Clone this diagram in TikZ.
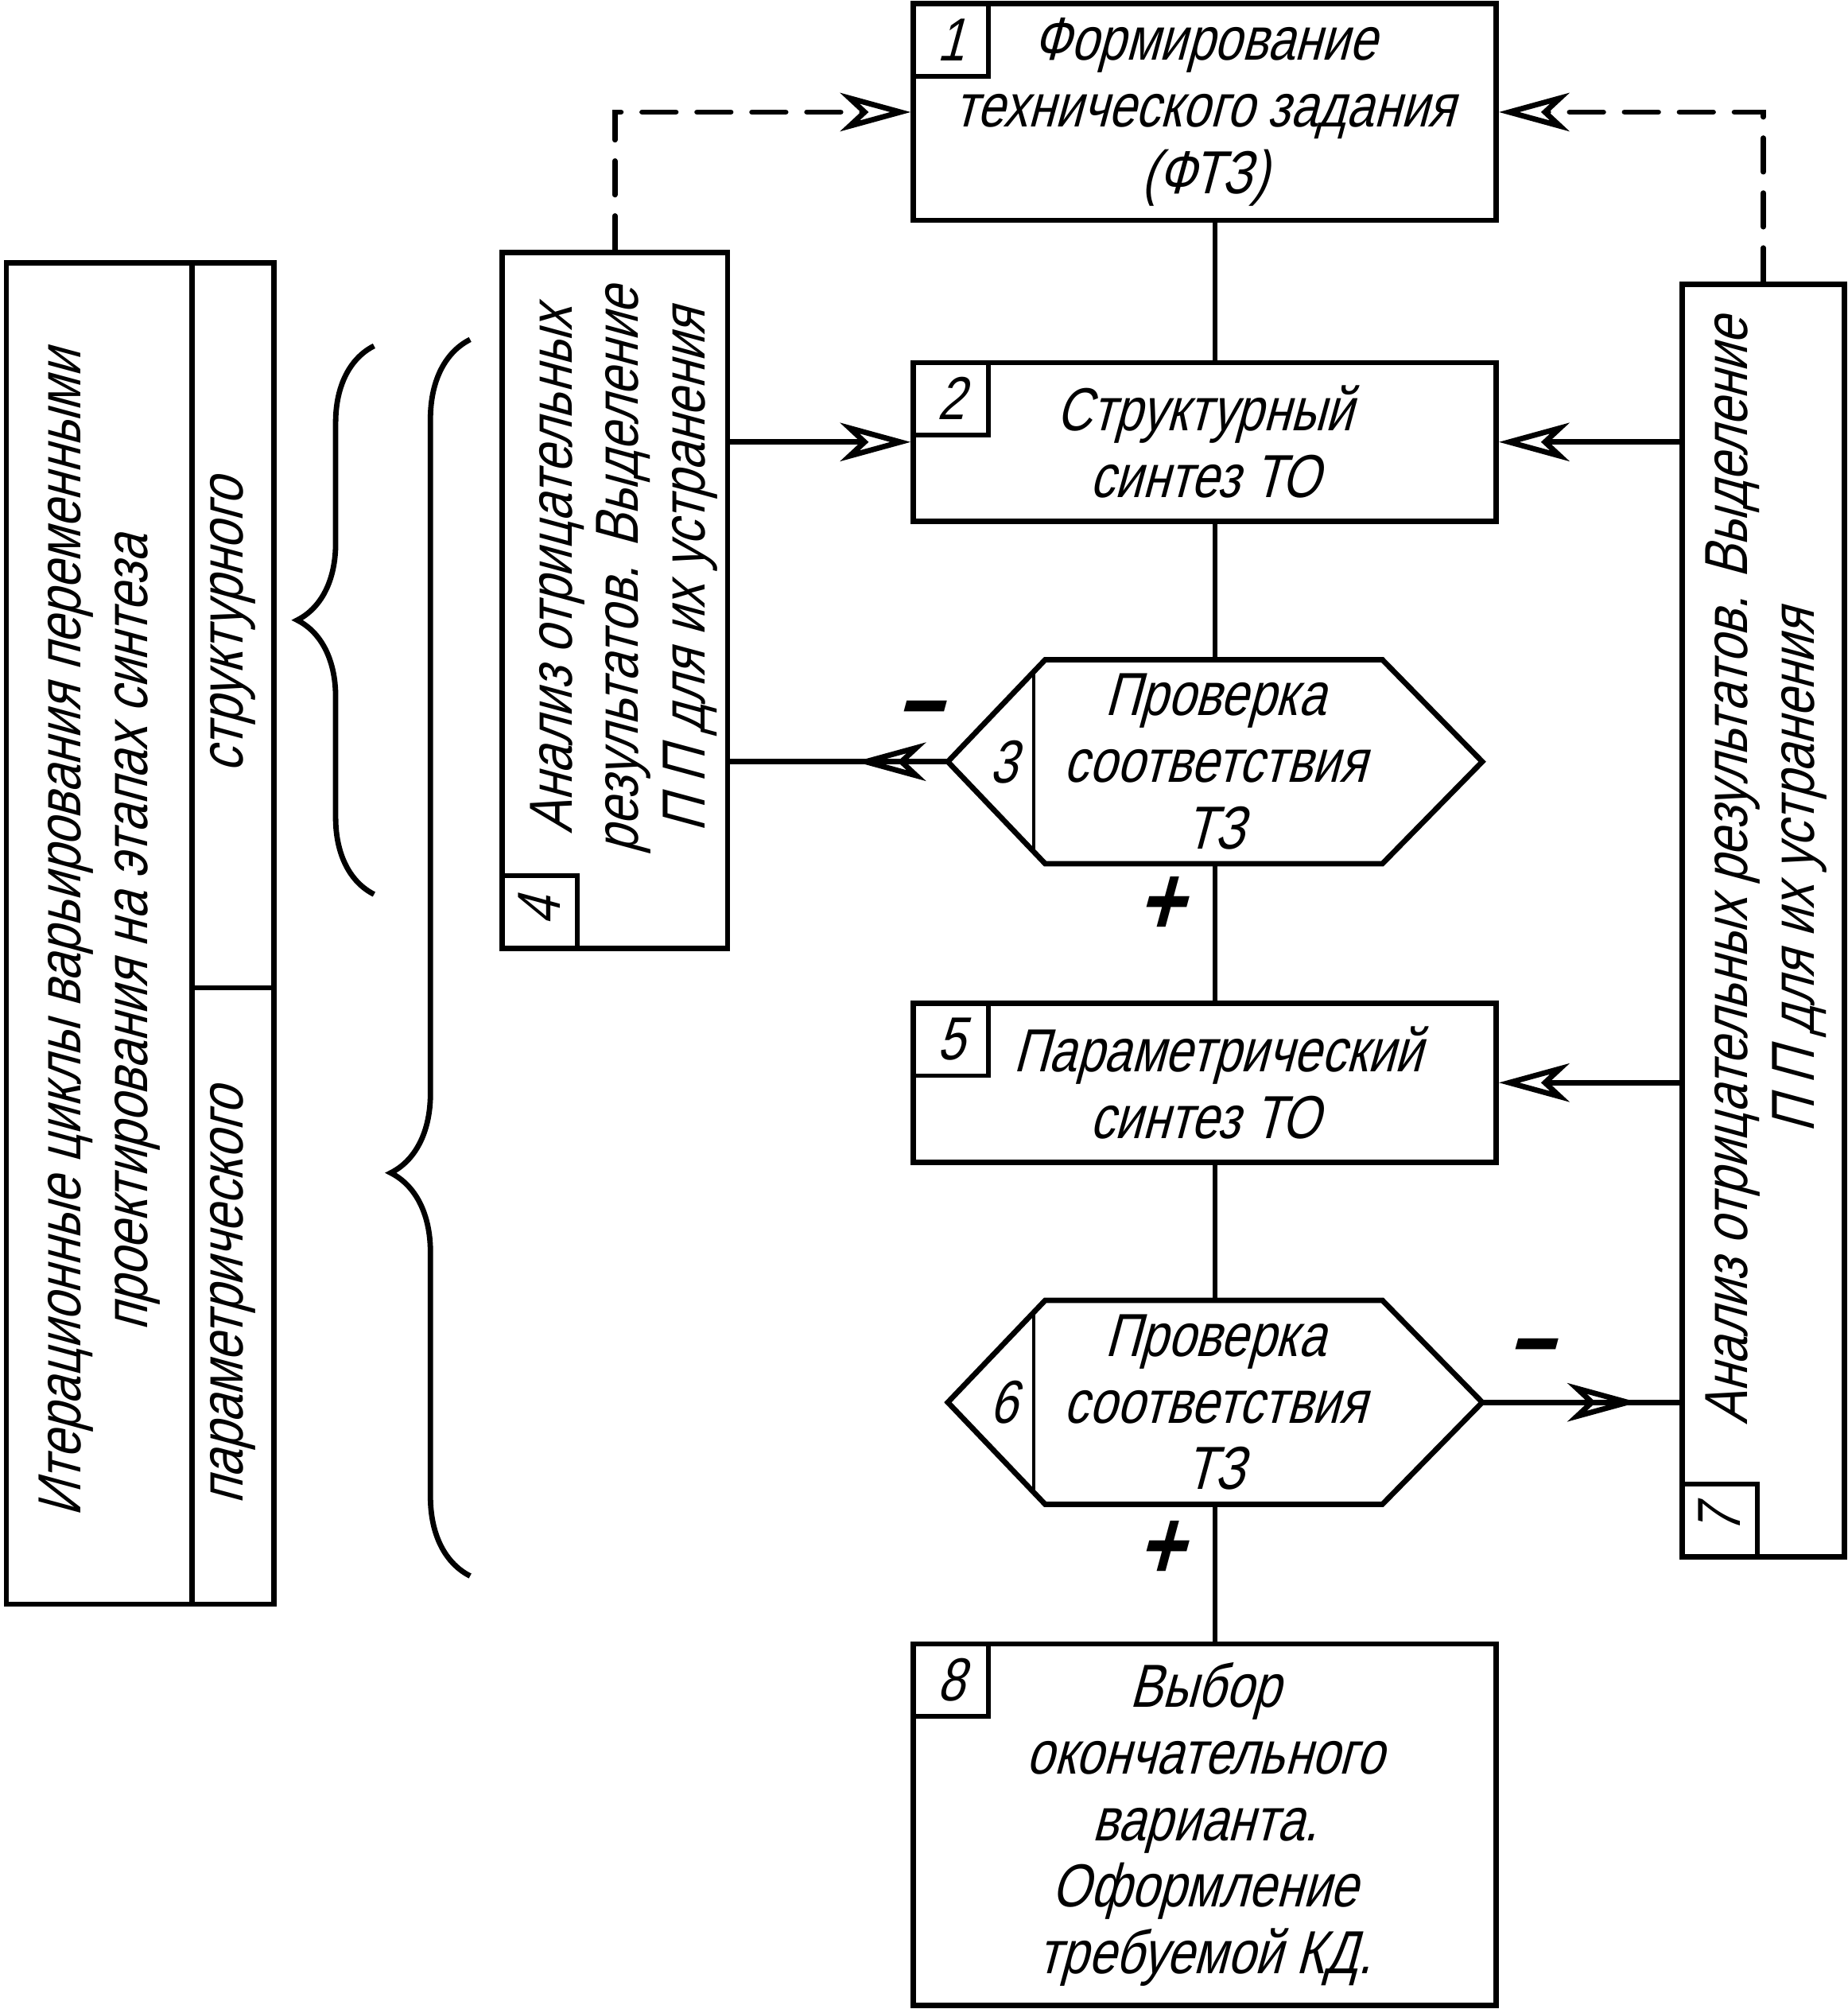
\documentclass[tikz,border=0pt]{standalone}
\usepackage{fontspec}
\setmainfont{Liberation Sans}[FakeSlant=0.27,FakeStretch=0.81]
\usetikzlibrary{arrows.meta}
\usetikzlibrary{positioning}
\usetikzlibrary{decorations.pathreplacing,decorations.markings}

\begin{document}
\begin{tikzpicture}[line width=1.2pt,
    font=\fontsize{13.5}{14.8}\selectfont,
    box/.style ={rectangle, draw, minimum width=4.55cm, align=center, inner sep=0pt},
    numbox/.style ={rectangle, draw, line width=1pt, minimum width=0.59cm, minimum height=0.57cm, inner sep=0pt},
    cond/.style ={minimum width=4.13cm, minimum height=1.55cm, inner sep=0pt, align=center},
    tip/.tip ={Stealth[open, length=0.55cm, width=0.3cm, inset=0.16cm]},
    arr/.style ={-tip},
    midarr/.style ={postaction={decorate}, decoration={markings, mark=at position #1 with {\arrow{tip}}}},
    dashline/.style ={dash pattern=on 7.5pt off 4.7pt, line cap=round},
    sign/.style ={font=\fontsize{22}{22}\selectfont\bfseries},
    thinline/.style ={line width=0.7pt}]
    \useasboundingbox (0,0) rectangle (14.42,-15.68);

    % main column
    \node[box, minimum height=1.69cm] (b1) at (9.405,-0.875) {Формирование\\технического задания\\(ФТЗ)};
    \node[box, minimum height=1.24cm] (b2) at (9.405,-3.45) {Структурный\\синтез ТО};
    \node[cond] (c3) at (9.485,-5.945) {Проверка\\соответствия\\ТЗ};
    \node[box, minimum height=1.24cm] (b5) at (9.405,-8.45) {\hspace*{0.2cm}Параметрический\\синтез ТО};
    \node[cond] (c6) at (9.485,-10.945) {Проверка\\соответствия\\ТЗ};
    \node[box, minimum height=2.82cm] (b8) at (9.405,-14.24) {Выбор\\окончательного\\варианта.\\Оформление\\требуемой КД.};

    \node[numbox, anchor=north west] (n1) at (b1.north west) {1};
    \node[numbox, anchor=north west] (n2) at (b2.north west) {2};
    \node[numbox, anchor=north west] (n5) at (b5.north west) {5};
    \node[numbox, anchor=north west] (n8) at (b8.north west) {8};

    % check blocks
    \foreach \c/\n in {c3/3, c6/6} {
      \draw (\c.west) -- ([xshift=0.76cm]\c.north west) -- ([xshift=-0.78cm]\c.north east)
        -- (\c.east) -- ([xshift=-0.78cm]\c.south east) -- ([xshift=0.76cm]\c.south west) -- cycle;
      \draw[thinline] ([shift={(0.67,0.69)}]\c.west) -- ([shift={(0.67,-0.69)}]\c.west);
      \node (\c-num) at ([xshift=0.43cm]\c.west) {\n};
    }

    % side blocks
    \node[rectangle, draw, minimum width=1.76cm, minimum height=5.43cm] (b4) at (4.80,-4.685) {};
    \node[rotate=90, align=center] (t4) at (4.87,-4.45) {Анализ отрицательных\\результатов. Выделение\\П П для их устранения};
    \node[numbox, anchor=south west] (n4) at (b4.south west) {\rotatebox{90}{4}};

    \node[rectangle, draw, minimum width=1.27cm, minimum height=9.93cm] (b7) at (13.765,-7.185) {};
    \node[rotate=90, align=center] (t7) at (13.785,-6.8) {Анализ отрицательных результатов. Выделение\\П П для их устранения};
    \node[numbox, anchor=south west] (n7) at (b7.south west) {\rotatebox{90}{7}};

    % left legend
    \node[rectangle, draw, rotate=90, minimum width=10.47cm, minimum height=1.45cm, align=center] (lb) at (0.775,-7.285)
      {Итерационные циклы варьирования переменными\\проектирования на этапах синтеза};
    \node[rectangle, draw, rotate=90, minimum width=5.66cm, minimum height=0.64cm] (su) at (1.82,-4.88) {структурного};
    \node[rectangle, draw, rotate=90, minimum width=4.81cm, minimum height=0.64cm] (pa) at (1.82,-10.115) {параметрического};

    \draw[decorate, decoration={brace, amplitude=0.6cm}] (2.92,-6.98) -- (2.92,-2.70);
    \draw[decorate, decoration={brace, amplitude=0.62cm, aspect=0.326}] (3.67,-12.30) -- (3.67,-2.65);

    % connections
    \draw (b1.south -| c3.north) -- (b2.north -| c3.north);
    \draw (b2.south -| c3.north) -- (c3.north);
    \draw (c3.south) -- (b5.north -| c3.south);
    \draw (b5.south -| c6.north) -- (c6.north);
    \draw (c6.south) -- (b8.north -| c6.south);

    \draw[arr] (b4.east |- b2.west) -- (b2.west);
    \draw[arr] (b7.west |- b2.east) -- (b2.east);
    \draw[arr] (b7.west |- b5.east) -- (b5.east);
    \draw[midarr=0.425] (c3.west) -- (c3.west -| b4.east);
    \draw[midarr=0.79] (c6.east) -- (c6.east -| b7.west);

    \draw[dashline, arr] (b4.north) |- (b1.west);
    \draw[dashline, arr] (b7.north) |- (b1.east);

    \node[sign] (m3) at (7.155,-5.62) {−};
    \node[sign] (m6) at (11.93,-10.60) {−};
    \node[sign] (p3) at (9.05,-7.07) {+};
    \node[sign] (p6) at (9.05,-12.10) {+};
\end{tikzpicture}
\end{document}
